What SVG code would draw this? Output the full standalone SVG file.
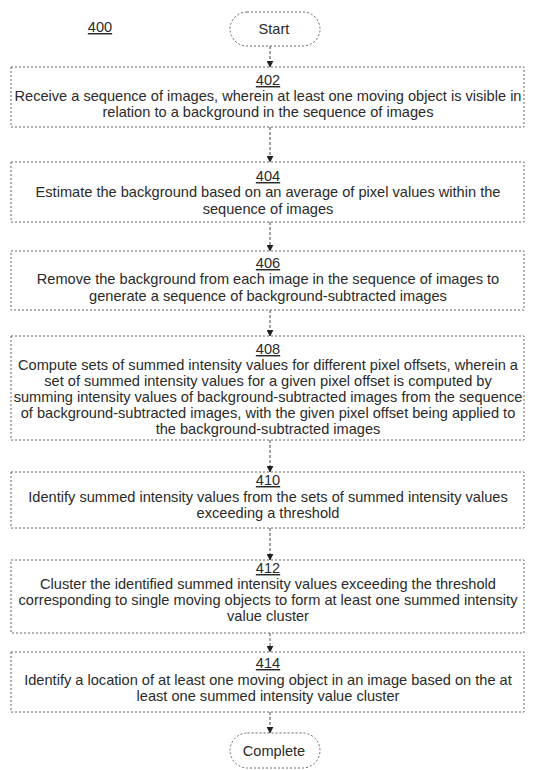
<svg xmlns="http://www.w3.org/2000/svg" width="534" height="770" viewBox="0 0 534 770">
<defs>
<style>
.t{font-family:"Liberation Sans",Arial,sans-serif;font-size:14.6px;fill:#2a2a2a;text-anchor:middle}
.box{fill:#fff;stroke:#666;stroke-width:1;stroke-dasharray:2,2}
.ln{stroke:#444;stroke-width:1;stroke-dasharray:3,2;fill:none}
.u{text-decoration:underline}
</style>
<marker id="ah" viewBox="0 0 10 10" refX="9" refY="5" markerWidth="7" markerHeight="7" orient="auto" markerUnits="userSpaceOnUse">
<path d="M0,0 L10,5 L0,10 z" fill="#222"/>
</marker>
</defs>
<rect width="534" height="770" fill="#fff"/>
<text class="t u" x="100" y="32">400</text>
<g id="connectors">
<line class="ln" x1="270" y1="46" x2="270" y2="67" marker-end="url(#ah)"/>
<line class="ln" x1="270" y1="127" x2="270" y2="162" marker-end="url(#ah)"/>
<line class="ln" x1="270" y1="222" x2="270" y2="251" marker-end="url(#ah)"/>
<line class="ln" x1="270" y1="310" x2="270" y2="336" marker-end="url(#ah)"/>
<line class="ln" x1="270" y1="440" x2="270" y2="472" marker-end="url(#ah)"/>
<line class="ln" x1="270" y1="528" x2="270" y2="560" marker-end="url(#ah)"/>
<line class="ln" x1="270" y1="633" x2="270" y2="652" marker-end="url(#ah)"/>
<line class="ln" x1="270" y1="712" x2="270" y2="733" marker-end="url(#ah)"/>
</g>
<g id="start">
<rect class="box" x="230" y="12" width="90" height="34" rx="17"/>
<text class="t" x="274" y="34">Start</text>
</g>
<g id="n402">
<rect class="box" x="11" y="67" width="513" height="60"/>
<text class="t u" x="268" y="85">402</text>
<text class="t" x="268" y="101">Receive a sequence of images, wherein at least one moving object is visible in</text>
<text class="t" x="268" y="117">relation to a background in the sequence of images</text>
</g>
<g id="n404">
<rect class="box" x="11" y="162" width="513" height="60"/>
<text class="t u" x="268" y="181">404</text>
<text class="t" x="268" y="197">Estimate the background based on an average of pixel values within the</text>
<text class="t" x="268" y="214">sequence of images</text>
</g>
<g id="n406">
<rect class="box" x="11" y="251" width="513" height="59"/>
<text class="t u" x="268" y="268">406</text>
<text class="t" x="268" y="284">Remove the background from each image in the sequence of images to</text>
<text class="t" x="268" y="301">generate a sequence of background-subtracted images</text>
</g>
<g id="n408">
<rect class="box" x="11" y="336" width="513" height="104"/>
<text class="t u" x="268" y="354">408</text>
<text class="t" x="268" y="370">Compute sets of summed intensity values for different pixel offsets, wherein a</text>
<text class="t" x="268" y="386">set of summed intensity values for a given pixel offset is computed by</text>
<text class="t" x="268" y="402">summing intensity values of background-subtracted images from the sequence</text>
<text class="t" x="268" y="418">of background-subtracted images, with the given pixel offset being applied to</text>
<text class="t" x="268" y="434">the background-subtracted images</text>
</g>
<g id="n410">
<rect class="box" x="11" y="472" width="513" height="56"/>
<text class="t u" x="268" y="485">410</text>
<text class="t" x="268" y="502">Identify summed intensity values from the sets of summed intensity values</text>
<text class="t" x="268" y="518">exceeding a threshold</text>
</g>
<g id="n412">
<rect class="box" x="11" y="560" width="513" height="73"/>
<text class="t u" x="268" y="573">412</text>
<text class="t" x="268" y="589">Cluster the identified summed intensity values exceeding the threshold</text>
<text class="t" x="268" y="605">corresponding to single moving objects to form at least one summed intensity</text>
<text class="t" x="268" y="621">value cluster</text>
</g>
<g id="n414">
<rect class="box" x="11" y="652" width="513" height="60"/>
<text class="t u" x="268" y="668">414</text>
<text class="t" x="268" y="685">Identify a location of at least one moving object in an image based on the at</text>
<text class="t" x="268" y="701">least one summed intensity value cluster</text>
</g>
<g id="complete">
<rect class="box" x="230" y="733" width="90" height="35" rx="17.5"/>
<text class="t" x="274" y="756">Complete</text>
</g>
</svg>
